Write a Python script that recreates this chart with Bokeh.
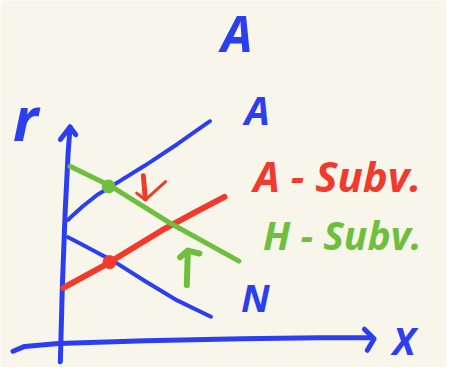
from bokeh.plotting import figure
from bokeh.models import Range1d
from bokeh.core.properties import value
from bokeh.embed import file_html
from bokeh.resources import INLINE

BG = "#f8f5eb"
BLUE = "#2b3ff0"
RED = "#f23a2c"
GREEN = "#6fbf3e"

# sketch coordinates (reference pixel space, y downward)
y_axis_x = [62, 64, 67, 70, 72]
y_axis_y = [377, 300, 220, 160, 132]
y_head_x = [62, 72, 78]
y_head_y = [145, 132, 140]

x_axis_x = [13, 25, 60, 150, 250, 330, 383]
x_axis_y = [366, 361, 358, 355, 353, 352, 352]
x_head_x = [377, 387, 380]
x_head_y = [343, 353, 365]

a_curve_x = [70, 75, 85, 100, 113, 150, 183, 217]
a_curve_y = [229, 224, 215, 203, 195, 172, 150, 126]

n_curve_x = [70, 85, 100, 117, 150, 183, 218]
n_curve_y = [247, 255, 263, 272, 293, 313, 330]

red_x = [65, 110, 167, 200, 232]
red_y = [300, 275, 240, 222, 205]

green_x = [72, 113, 177, 247]
green_y = [173, 193, 233, 272]

green_dot = ([112], [194])
red_dot = ([113], [273])

red_stem_x = [148, 150]
red_stem_y = [183, 207]
red_head_x = [141, 150, 171]
red_head_y = [201, 208, 189]

green_arrow_x = [193, 194]
green_arrow_y = [297, 263]
green_head_x = [186, 194, 206]
green_head_y = [268, 261, 264]

labels = ["r", "A", "A", "N", "X"]
label_x = [26, 245, 266, 264, 418]
label_y = [123, 34, 114, 309, 354]
label_px = [60, 50, 40, 38, 38]

subv_labels = ["A - Subv.", "H - Subv."]
subv_x = [262, 272]
subv_y = [183, 244]
subv_colors = [RED, GREEN]
subv_px = [42, 39]

p = figure(width=446, height=367, output_backend="svg", toolbar_location=None,
           x_range=Range1d(0, 462), y_range=Range1d(383, 0),
           min_border=0, background_fill_color=BG, border_fill_color=BG)
p.axis.visible = False
p.grid.visible = False
p.outline_line_color = None

cap = dict(line_cap="round", line_join="round")
p.line(y_axis_x, y_axis_y, line_color=BLUE, line_width=5, **cap)
p.line(y_head_x, y_head_y, line_color=BLUE, line_width=5, **cap)
p.line(x_axis_x, x_axis_y, line_color=BLUE, line_width=5, **cap)
p.line(x_head_x, x_head_y, line_color=BLUE, line_width=5, **cap)
p.line(a_curve_x, a_curve_y, line_color=BLUE, line_width=4, **cap)
p.line(n_curve_x, n_curve_y, line_color=BLUE, line_width=4, **cap)
p.line(red_x, red_y, line_color=RED, line_width=6, **cap)
p.line(green_x, green_y, line_color=GREEN, line_width=5, **cap)
p.scatter(*green_dot, size=13, color=GREEN)
p.scatter(*red_dot, size=13, color=RED)
p.line(red_stem_x, red_stem_y, line_color=RED, line_width=5, **cap)
p.line(red_head_x, red_head_y, line_color=RED, line_width=3, **cap)
p.line(green_arrow_x, green_arrow_y, line_color=GREEN, line_width=6, **cap)
p.line(green_head_x, green_head_y, line_color=GREEN, line_width=6, **cap)

for t, x, y, px in zip(labels, label_x, label_y, label_px):
    p.text([x], [y], text=[t], text_color=BLUE, text_font=value("Open Sans"),
           text_font_style="bold italic", text_font_size="%dpx" % px,
           text_align="center", text_baseline="middle")
for t, x, y, c, px in zip(subv_labels, subv_x, subv_y, subv_colors, subv_px):
    p.text([x], [y], text=[t], text_color=c, text_font=value("Open Sans"),
           text_font_style="bold italic", text_font_size="%dpx" % px,
           text_baseline="middle")

html = file_html(p, INLINE)
html = html.replace("<body>", '<body style="background:%s">' % BG, 1)
open("out.html", "w").write(html)
